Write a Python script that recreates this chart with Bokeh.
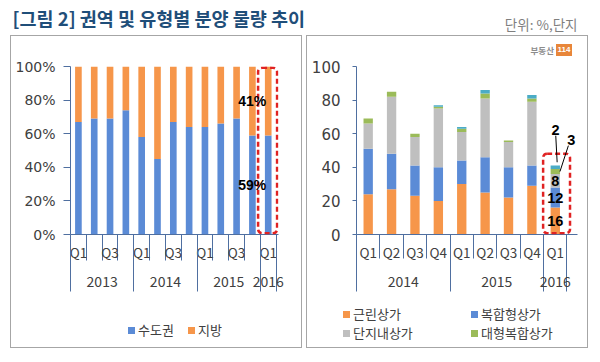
from bokeh.plotting import figure
from bokeh.models import (Range1d, LinearAxis, FixedTicker, CustomJSTickFormatter, PrintfTickFormatter,
                          BoxAnnotation, Label, Arrow, ColumnDataSource, Div)
from bokeh.layouts import column, row
from bokeh.embed import file_html
from bokeh.resources import INLINE
from bokeh.core.properties import value

# ---------------- data ----------------
title_text = "[그림 2] 권역 및 유형별 분양 물량 추이"
unit_text = "단위: %,단지"
logo_text = "부동산"
logo_box_text = "114"

left_years = ["2013"] * 4 + ["2014"] * 4 + ["2015"] * 4 + ["2016"]
left_quarters = ["Q1", "Q2", "Q3", "Q4"] * 3 + ["Q1"]
capital = [67, 69, 69, 74, 58, 45, 67, 64, 64, 66, 69, 59, 59]        # 수도권 %
provinces = [33, 31, 31, 26, 42, 55, 33, 36, 36, 34, 31, 41, 41]      # 지방 %
left_names = ["수도권", "지방"]
left_yticks = [0, 20, 40, 60, 80, 100]

right_years = ["2014"] * 4 + ["2015"] * 4 + ["2016"]
right_quarters = ["Q1", "Q2", "Q3", "Q4"] * 2 + ["Q1"]
neighborhood = [24, 27, 23, 20, 30, 25, 22, 29, 16]   # 근린상가
complex_type = [27, 21, 18, 20, 14, 21, 18, 12, 12]   # 복합형상가
in_complex = [15, 34, 17, 35, 17, 35, 15, 38, 8]      # 단지내상가
large_complex = [3, 3, 2, 1, 2, 3, 1, 2, 3]           # 대형복합상가
other_type = [0, 0, 0, 1, 1, 2, 0, 2, 2]              # 기타
right_names = ["근린상가", "복합형상가", "단지내상가", "대형복합상가", "기타"]
right_yticks = [0, 20, 40, 60, 80, 100]

# ---------------- styles ----------------
KR = "Noto Sans CJK KR"
BLUE = "#5B8BD6"
ORANGE = "#F6964A"
GRAY = "#BFBFBF"
GREEN = "#9BBB59"
TEAL = "#4BACC6"
AXIS = "#4F6FA0"
TXT = "#404040"
RED = "#E02222"
FRAME = "#A6A6A6"

W_L, W_R, H_T = 290, 280, 35
H_CHART_L, H_LOGO, H_CHART_R, H_LEG = 262, 20, 242, 49
BORDER = {"border": f"1px solid {FRAME}"}


def groups(years):
    names, starts = [], []
    for i, y in enumerate(years):
        if not names or names[-1] != y:
            names.append(y)
            starts.append(i)
    bounds = starts + [len(years)]
    centers = [(bounds[k] + bounds[k + 1]) / 2 for k in range(len(names))]
    return names, bounds, centers


def add_cat_axes(p, years, quarters, step, short_len, a_standoff, b_in, b_out, b_standoff):
    n = len(years)
    label_ticks = [i + 0.5 for i in range(0, n, step)]
    axA = LinearAxis(
        ticker=FixedTicker(ticks=label_ticks, minor_ticks=list(range(n + 1))),
        formatter=CustomJSTickFormatter(args=dict(labels=quarters),
                                        code="return labels[Math.floor(tick)];"),
        axis_line_color=AXIS, major_tick_line_color=None,
        major_tick_in=0, major_tick_out=0,
        minor_tick_line_color=AXIS, minor_tick_in=0, minor_tick_out=short_len,
        major_label_text_font=KR, major_label_text_font_size="13.5px",
        major_label_text_color=TXT, major_label_standoff=a_standoff)
    names, bounds, centers = groups(years)
    axB = LinearAxis(
        ticker=FixedTicker(ticks=centers, minor_ticks=bounds),
        formatter=CustomJSTickFormatter(args=dict(t=centers, names=names),
                                        code="const i = t.indexOf(tick); return i < 0 ? '' : names[i];"),
        axis_line_color=None, major_tick_line_color=None,
        major_tick_in=0, major_tick_out=0,
        minor_tick_line_color=AXIS, minor_tick_in=b_in, minor_tick_out=b_out,
        major_label_text_font=KR, major_label_text_font_size="14px",
        major_label_text_color=TXT, major_label_standoff=b_standoff)
    p.add_layout(axA, "below")
    p.add_layout(axB, "below")


def style_yaxis(ax, ticks, tick_out, font_size, standoff):
    ax.ticker = FixedTicker(ticks=ticks)
    ax.axis_line_color = AXIS
    ax.major_tick_line_color = AXIS
    ax.major_tick_in = 0
    ax.major_tick_out = tick_out
    ax.minor_tick_line_color = None
    ax.major_label_text_font = "DejaVu Sans"
    ax.major_label_text_font_size = font_size
    ax.major_label_text_color = TXT
    ax.major_label_standoff = standoff


def blank_fig(w, h):
    f = figure(width=w, height=h, x_range=Range1d(0, w), y_range=Range1d(h, 0),
               toolbar_location=None, output_backend="svg", min_border=0,
               x_axis_location=None, y_axis_location=None, outline_line_color=None)
    f.grid.visible = False
    return f


def legend_div(w, names, colors, xs, ys):
    # legend keys (small squares) and labels at pixel positions of the legend strip
    parts = []
    for name, color, x, y in zip(names, colors, xs, ys):
        parts.append(f'<span style="position:absolute;left:{x}px;top:{y - 3.5}px;width:7px;height:7px;'
                     f'background:{color};"></span>')
        parts.append(f'<span style="position:absolute;left:{x + 10}px;top:{y - 9}px;line-height:18px;'
                     f'white-space:nowrap;">{name}</span>')
    html = (f'<div style="position:relative;width:{w}px;height:{H_LEG}px;font-family:\'{KR}\';'
            f'font-size:13px;color:{TXT};">' + "".join(parts) + "</div>")
    return Div(text=html, width=w, height=H_LEG, margin=0)


def red_box(p, left, right, bottom, top):
    p.add_layout(BoxAnnotation(left=left, right=right, bottom=bottom, top=top,
                               fill_alpha=0, line_color=RED, line_alpha=1, line_dash="5 3",
                               line_width=2.5, border_radius=4))


# ---------------- title ----------------
tp = blank_fig(600, H_T)
tp.text(x=[12], y=[17], text=[title_text], text_font=value(KR), text_font_size="18.5px",
        text_font_style="bold", text_color="#1F4E79", text_baseline="middle", text_align="left")
tp.text(x=[577], y=[23], text=[unit_text], text_font=value(KR), text_font_size="13.5px",
        text_color="#7F7F7F", text_baseline="middle", text_align="right")

# ---------------- left chart ----------------
nl = len(capital)
pl = figure(width=W_L, height=H_CHART_L, x_range=Range1d(0, nl + 0.15), y_range=Range1d(0, 100),
            toolbar_location=None, output_backend="svg", x_axis_location=None,
            min_border_left=59, min_border_right=23, min_border_top=30, min_border_bottom=64,
            outline_line_color=None)
pl.grid.visible = False
srcl = ColumnDataSource(dict(x=[i + 0.5 for i in range(nl)], capital=capital, provinces=provinces))
rl = pl.vbar_stack(["capital", "provinces"], x="x", width=0.42, color=[BLUE, ORANGE], source=srcl,
                   line_color=None)
style_yaxis(pl.yaxis[0], left_yticks, 7, "14px", 8)
pl.yaxis[0].formatter = PrintfTickFormatter(format="%d%%")
add_cat_axes(pl, left_years, left_quarters, 2, 26, -19, 29, 27, -16)

red_box(pl, nl - 1 - 0.14, nl + 0.06, 0.8, 99.2)
lab_l = dict(text_align="center", text_baseline="middle", text_font="Liberation Sans",
             text_font_size="14px", text_font_style="bold", text_color="#000000")
pl.add_layout(Label(x=nl - 0.5, y=capital[-1] + provinces[-1] / 2, x_offset=-16,
                    text=f"{provinces[-1]}%", **lab_l))
pl.add_layout(Label(x=nl - 0.5, y=capital[-1] / 2, x_offset=-16, text=f"{capital[-1]}%", **lab_l))

legl = legend_div(W_L, left_names, [BLUE, ORANGE], [117, 177], [32, 32])
left_panel = column(pl, legl, styles=BORDER, margin=(0, 0, 0, 10))

# ---------------- right chart ----------------
nr = len(neighborhood)
pr = figure(width=W_R, height=H_CHART_R, x_range=Range1d(0, nr + 0.45), y_range=Range1d(0, 100),
            toolbar_location=None, output_backend="svg", x_axis_location=None,
            min_border_left=49, min_border_right=10, min_border_top=10, min_border_bottom=64,
            outline_line_color=None)
pr.grid.visible = False
srcr = ColumnDataSource(dict(x=[i + 0.5 for i in range(nr)], a=neighborhood, b=complex_type,
                             c=in_complex, d=large_complex, e=other_type))
rr = pr.vbar_stack(["a", "b", "c", "d", "e"], x="x", width=0.4,
                   color=[ORANGE, BLUE, GRAY, GREEN, TEAL], source=srcr, line_color=None)
style_yaxis(pr.yaxis[0], right_yticks, 4, "15px", 12)
add_cat_axes(pr, right_years, right_quarters, 1, 24, -17, 29, 27, -16)

red_box(pr, nr - 1 - 0.02, nr + 0.13, 0.8, 48.1)
xc = nr - 0.5
c1 = neighborhood[-1]
c2 = c1 + complex_type[-1]
c3 = c2 + in_complex[-1]
c4 = c3 + large_complex[-1]
c5 = c4 + other_type[-1]
lab = dict(text_align="center", text_baseline="middle", text_font="Liberation Sans",
           text_font_size="14.5px", text_font_style="bold", text_color="#000000")
pr.add_layout(Label(x=xc, y=c1 / 2, text=str(neighborhood[-1]), **lab))
pr.add_layout(Label(x=xc, y=(c1 + c2) / 2, text=str(complex_type[-1]), **lab))
pr.add_layout(Label(x=xc, y=(c2 + c3) / 2, text=str(in_complex[-1]), **lab))
pr.add_layout(Label(x=xc + 0.01, y=c5 + 21, text=str(other_type[-1]), **lab))
pr.add_layout(Label(x=xc + 0.68, y=c5 + 15.4, text=str(large_complex[-1]), **lab))
pr.add_layout(Arrow(end=None, x_start=xc + 0.02, y_start=c5 + 17.8, x_end=xc + 0.08, y_end=c5 + 2,
                    line_color="#000000", line_width=1))
pr.add_layout(Arrow(end=None, x_start=xc + 0.56, y_start=c5 + 11.9, x_end=xc + 0.2, y_end=(c3 + c4) / 2,
                    line_color="#000000", line_width=1))

# logo strip (a plain HTML strip so it is not tied to the chart frame)
logo_html = (f'<div style="position:relative;width:{W_R}px;height:{H_LOGO}px;">'
             f'<span style="position:absolute;right:{W_R - 247}px;top:8px;line-height:12px;'
             f'font-family:\'{KR}\';font-size:8.5px;font-weight:bold;color:#8C8C8C;white-space:nowrap;">'
             f'{logo_text}</span>'
             f'<span style="position:absolute;left:249px;top:8px;width:16px;height:12px;line-height:12px;'
             f'background:#E8863A;color:#FFFFFF;font-family:\'Liberation Sans\';font-size:8px;'
             f'font-weight:bold;text-align:center;">{logo_box_text}</span></div>')
lg = Div(text=logo_html, width=W_R, height=H_LOGO, margin=0)

legr = legend_div(W_R, [right_names[0], right_names[1], right_names[2], right_names[3]],
                  [ORANGE, BLUE, GRAY, GREEN], [36, 164, 36, 164], [16, 16, 35, 35])
right_panel = column(lg, pr, legr, styles=BORDER, margin=(0, 0, 0, 4))

layout = column(tp, row(left_panel, right_panel))
open("out.html", "w").write(file_html(layout, INLINE))
